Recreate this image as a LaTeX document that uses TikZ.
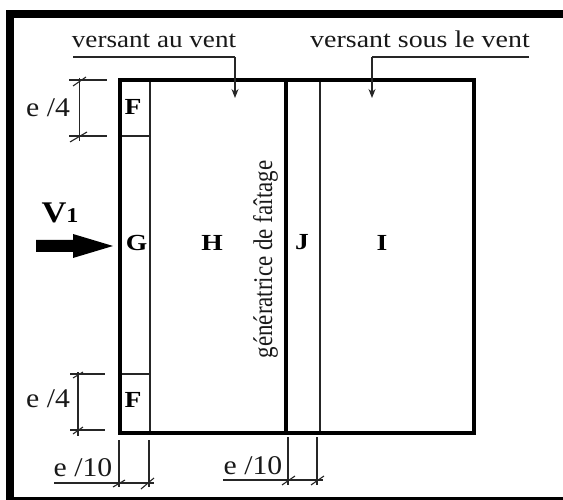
\documentclass[tikz,border=0pt]{standalone}
\usepackage{fontspec}
\setmainfont{Liberation Serif}
\usetikzlibrary{arrows.meta}
\tikzset{
  thin line/.style={draw=black!85,line width=1.1pt},
  thick box/.style={draw=black,line width=4pt},
  frame/.style={fill=black},
  lbl/.style={inner sep=0pt,anchor=base,font=\fontsize{24}{24}\selectfont,text=black!90,xscale=1.13},
  dimlbl/.style={inner sep=0pt,anchor=base,font=\fontsize{27}{27}\selectfont,text=black!90,xscale=1.1},
  zone/.style={inner sep=0pt,anchor=base,font=\fontsize{23}{23}\bfseries\selectfont,xscale=1.2},
  pointer/.style={thin line,-{Stealth[length=9pt,width=7pt]}},
}
\begin{document}
\begin{tikzpicture}[x=1pt,y=-1pt]
\useasboundingbox (0,0) rectangle (563,500);
\fill[white] (0,0) rectangle (563,500);
% frame: top, left and bottom bars, open on the right
\fill[frame] (6,10) rectangle (563,18);
\fill[frame] (6,10) rectangle (14,500);
\fill[frame] (6,497) rectangle (563,500);
% panels
\draw[thin line] (150,80) -- (150,433);
\draw[thin line] (320,80) -- (320,433);
\draw[thin line] (120,136) -- (150,136);
\draw[thin line] (120,374) -- (150,374);
\draw[thick box] (119.5,80) rectangle (474,433);
\draw[thick box] (286,80) -- (286,433);
% labels
\node[lbl] (vv) at (154,48) {versant au vent};
\node[lbl,xscale=1.03] (vs) at (420,48) {versant sous le vent};
\coordinate (a1) at (73,57); \coordinate (a2) at (235,57); \coordinate (a3) at (235,98);
\coordinate (b1) at (529,57); \coordinate (b2) at (372,57); \coordinate (b3) at (372,98);
\draw[thin line] (a1) -- (a2);
\draw[pointer] (a2) -- (a3);
\draw[thin line] (b1) -- (b2);
\draw[pointer] (b2) -- (b3);
% zones
\node[zone] (F1) at (133,115) {F};
\node[zone] (F2) at (133,407) {F};
\node[zone] (G) at (136.5,251) {G};
\node[zone] (H) at (212,251) {H};
\node[zone] (J) at (302,250) {J};
\node[zone] (I) at (382,251) {I};
\node[inner sep=0pt,rotate=90,font=\fontsize{27}{27}\selectfont,text=black!90,xscale=0.85] (gf) at (265.5,259.5) {génératrice de faîtage};
% wind
\node[inner sep=0pt,anchor=base,font=\fontsize{30}{30}\bfseries\selectfont,xscale=1.15] (V) at (60,223) {V\fontsize{21}{21}\selectfont 1};
\fill[black] (36,240) -- (73,240) -- (73,234) -- (113,246) -- (73,258) -- (73,252) -- (36,252) -- cycle;
% e/4
\node[dimlbl] (e1) at (48,117) {e /4};
\node[dimlbl] (e2) at (48,407) {e /4};
\draw[thin line] (69,80) -- (107,80);
\draw[thin line] (69,136) -- (107,136);
\draw[thin line] (79.5,78) -- (79.5,141);
\draw[thin line] (73,86) -- (86,77);
\draw[thin line] (70,142) -- (87,132);
\draw[thin line] (70,374) -- (105,374);
\draw[thin line] (70,430) -- (105,430);
\draw[thin line] (78,372) -- (78,436);
\draw[thin line] (73,378) -- (83,372);
\draw[thin line] (73,434) -- (83,427);
% e/10
\node[dimlbl] (e3) at (83,476) {e /10};
\node[dimlbl] (e4) at (253,474) {e /10};
\draw[thin line] (119,440) -- (119,487);
\draw[thin line] (149,440) -- (149,487);
\draw[thin line] (54,483) -- (154,483);
\draw[thin line] (113,487) -- (125,480);
\draw[thin line] (141,489) -- (154,478);
\draw[thin line] (288,437) -- (288,485);
\draw[thin line] (317,437) -- (317,485);
\draw[thin line] (223,480) -- (323,480);
\draw[thin line] (282,485) -- (295,476);
\draw[thin line] (311,485) -- (324,476);
\end{tikzpicture}
\end{document}
